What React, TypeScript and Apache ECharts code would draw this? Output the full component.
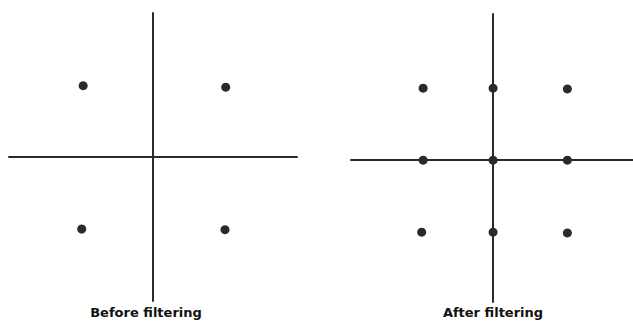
import React, { useEffect, useRef } from "react";
import * as echarts from "echarts";

const beforeX = [-0.97, 1.01, -0.99, 1.0];
const beforeY = [0.99, 0.97, -1.0, -1.01];
const afterX = [-0.97, 0.0, 1.03, -0.97, 0.0, 1.03, -0.99, 0.0, 1.03];
const afterY = [1.0, 1.0, 0.99, 0.0, 0.0, 0.0, -1.0, -1.0, -1.01];
const panelTitles = ["Before filtering", "After filtering"];

const INK = "#2a2a2a";

export default function App() {
  const ref = useRef<HTMLDivElement>(null);
  useEffect(() => {
    if (!ref.current) return;
    const chart = echarts.init(ref.current, null, { renderer: "svg" });
    const axisCommon = {
      type: "value" as const,
      axisLine: { show: true, onZero: true, lineStyle: { color: INK, width: 2 } },
      axisTick: { show: false },
      axisLabel: { show: false },
      splitLine: { show: false },
    };
    chart.setOption({
      animation: false,
      backgroundColor: "#ffffff",
      grid: [
        { left: 9, top: 13, width: 288, height: 288 },
        { left: 351, top: 14, width: 282, height: 288 },
      ],
      xAxis: [
        { ...axisCommon, gridIndex: 0, min: -2, max: 2 },
        { ...axisCommon, gridIndex: 1, min: -1.97, max: 1.94 },
      ],
      yAxis: [
        { ...axisCommon, gridIndex: 0, min: -2, max: 2 },
        { ...axisCommon, gridIndex: 1, min: -1.97, max: 2.03 },
      ],
      series: [
        {
          type: "scatter",
          xAxisIndex: 0,
          yAxisIndex: 0,
          symbolSize: 9,
          itemStyle: { color: INK, opacity: 1 },
          data: beforeX.map((x, i) => [x, beforeY[i]]),
        },
        {
          type: "scatter",
          xAxisIndex: 1,
          yAxisIndex: 1,
          symbolSize: 9,
          itemStyle: { color: INK, opacity: 1 },
          data: afterX.map((x, i) => [x, afterY[i]]),
        },
      ],
      graphic: [
        {
          type: "text",
          x: 146,
          y: 312,
          style: {
            text: panelTitles[0],
            fill: "#111",
            font: "bold 13px 'DejaVu Sans'",
            align: "center",
            verticalAlign: "middle",
          },
        },
        {
          type: "text",
          x: 493,
          y: 312,
          style: {
            text: panelTitles[1],
            fill: "#111",
            font: "bold 13px 'DejaVu Sans'",
            align: "center",
            verticalAlign: "middle",
          },
        },
      ],
    });
    return () => chart.dispose();
  }, []);
  return (
    <div
      ref={ref}
      style={{ position: "absolute", left: 0, top: 0, width: 633, height: 323 }}
    />
  );
}
